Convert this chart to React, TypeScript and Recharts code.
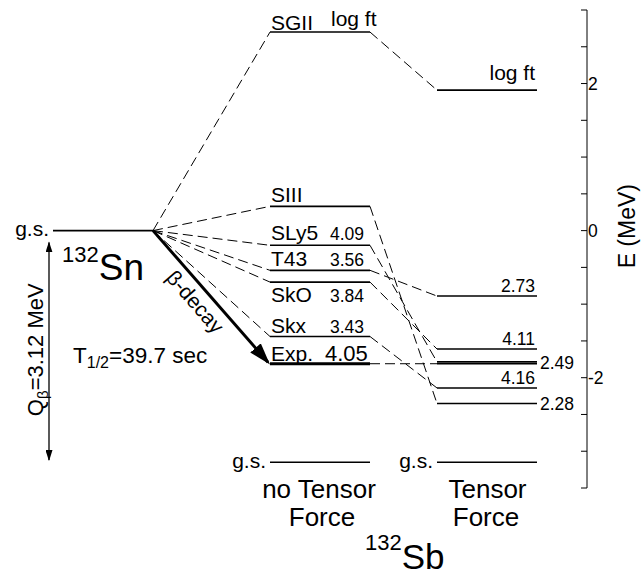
import React from "react";
import { ComposedChart, Line, XAxis, YAxis, ReferenceDot } from "recharts";

const FONT = "'Liberation Sans', Arial, sans-serif";

// energies in MeV, measured from the 132Sn ground state
const models = ["SGII", "SIII", "SLy5", "T43", "SkO", "Skx"];
const noTensorE = [2.7, 0.33, -0.2, -0.54, -0.7, -1.44];
const tensorE = [1.91, -2.35, -1.785, -0.89, -1.61, -2.14];
const noTensorLogFt = ["log ft", "", "4.09", "3.56", "3.84", "3.43"];
const tensorLogFt = ["log ft", "2.28", "2.49", "2.73", "4.11", "4.16"];
const expE = -1.81;
const expLogFt = "4.05";
const sbGroundE = -3.15;
const qBeta = 3.12;
const yTicks = [-3.5, -3, -2.5, -2, -1.5, -1, -0.5, 0, 0.5, 1, 1.5, 2, 2.5, 3];
const yTickLabels = [-2, 0, 2];

// columns on the hidden x axis (1 unit = one level width)
const snCol = [0.53, 1.53];
const ntCol = [2.7, 3.7];
const tCol = [4.37, 5.37];

// where the model names / values sit relative to their level (px)
const ntLabelDy = [-2, -4, -5, -4, 20, -4];
const tensorRightSide = [false, true, true, false, false, false];

type Pt = { x: number; y: number };
const seg = (x0: number, y0: number, x1: number, y1: number): Pt[] => [
  { x: x0, y: y0 },
  { x: x1, y: y1 },
];

type Seg = { data: Pt[]; width: number; dash?: string; head?: string; tail?: string };

const segs: Seg[] = [];
segs.push({ data: seg(snCol[0], 0, snCol[1], 0), width: 1.6 });
models.forEach((_, i) => {
  segs.push({ data: seg(ntCol[0], noTensorE[i], ntCol[1], noTensorE[i]), width: 1.6 });
  segs.push({ data: seg(tCol[0], tensorE[i], tCol[1], tensorE[i]), width: 1.6 });
  segs.push({ data: seg(snCol[1], 0, ntCol[0], noTensorE[i]), width: 1, dash: "10 5" });
  segs.push({ data: seg(ntCol[1], noTensorE[i], tCol[0], tensorE[i]), width: 1, dash: "10 5" });
});
segs.push({ data: seg(ntCol[0], expE, ntCol[1], expE), width: 3 });
segs.push({ data: seg(tCol[0], expE, tCol[1], expE), width: 1.6 });
segs.push({ data: seg(ntCol[1], expE, tCol[0], expE), width: 1, dash: "10 5" });
segs.push({ data: seg(ntCol[0], sbGroundE, ntCol[1], sbGroundE), width: 1.6 });
segs.push({ data: seg(tCol[0], sbGroundE, tCol[1], sbGroundE), width: 1.6 });
// beta-decay arrow
segs.push({ data: seg(snCol[1], 0, ntCol[0] - 0.02, expE + 0.02), width: 3, head: "url(#bigHead)" });
// Q value arrow
segs.push({ data: seg(0.49, -0.16, 0.49, -qBeta), width: 1.3, head: "url(#smallHead)", tail: "url(#smallHead)" });

type Txt = {
  x: number;
  y: number;
  text: React.ReactNode;
  size?: number;
  anchor?: "start" | "middle" | "end";
  dy?: number;
  rotate?: number;
};

const texts: Txt[] = [];
models.forEach((m, i) => {
  texts.push({ x: ntCol[0] + 0.01, y: noTensorE[i], text: m, size: 21, dy: ntLabelDy[i] });
  if (noTensorLogFt[i]) {
    const isHead = i === 0;
    texts.push({
      x: isHead ? 3.31 : 3.3,
      y: noTensorE[i],
      text: noTensorLogFt[i],
      size: isHead ? 21 : 17.5,
      dy: isHead ? -6 : ntLabelDy[i],
    });
  }
  if (tensorRightSide[i]) {
    texts.push({ x: 5.4, y: tensorE[i], text: tensorLogFt[i], size: 17.5, dy: 7 });
  } else {
    texts.push({
      x: 5.35,
      y: tensorE[i],
      text: tensorLogFt[i],
      size: i === 0 ? 21 : 17.5,
      anchor: "end",
      dy: i === 0 ? -10 : -4,
    });
  }
});
texts.push({ x: ntCol[0] + 0.01, y: expE, text: "Exp.", size: 21, dy: -3 });
texts.push({ x: 3.25, y: expE, text: expLogFt, size: 22, dy: -3 });
texts.push({ x: 0.49, y: 0, text: "g.s.", size: 21, anchor: "end", dy: 5 });
texts.push({ x: 2.66, y: sbGroundE, text: "g.s.", size: 21, anchor: "end", dy: 6 });
texts.push({ x: 4.33, y: sbGroundE, text: "g.s.", size: 21, anchor: "end", dy: 6 });
texts.push({
  x: 0.62,
  y: -0.67,
  text: (
    <>
      <tspan fontSize={22} dy={-18}>132</tspan>
      <tspan fontSize={37} dy={18}>Sn</tspan>
    </>
  ),
});
texts.push({
  x: 0.73,
  y: -1.8,
  size: 22.5,
  text: (
    <>
      T<tspan fontSize={16} dy={5}>1/2</tspan>
      <tspan dy={-5}>=39.7 sec</tspan>
    </>
  ),
});
texts.push({
  x: 0.43,
  y: -1.62,
  size: 22,
  anchor: "middle",
  rotate: -90,
  text: (
    <>
      Q<tspan fontSize={15} dy={5}>β</tspan>
      <tspan dy={-5}>=3.12 MeV</tspan>
    </>
  ),
});
texts.push({ x: 1.95, y: -0.97, text: "β-decay", size: 21, anchor: "middle", dy: 7, rotate: 49 });
texts.push({ x: 3.19, y: -3.63, text: "no Tensor", size: 26, anchor: "middle" });
texts.push({ x: 3.22, y: -4.01, text: "Force", size: 26, anchor: "middle" });
texts.push({ x: 4.875, y: -3.63, text: "Tensor", size: 26, anchor: "middle" });
texts.push({ x: 4.86, y: -4.01, text: "Force", size: 26, anchor: "middle" });
texts.push({
  x: 3.65,
  y: -4.6,
  text: (
    <>
      <tspan fontSize={22} dy={-19}>132</tspan>
      <tspan fontSize={35} dy={19}>Sb</tspan>
    </>
  ),
});
texts.push({ x: 6.35, y: 0.06, text: "E (MeV)", size: 23, anchor: "middle", rotate: -90 });

const YTick = (props: any) => {
  const { x, y, payload } = props;
  const v = payload.value;
  return (
    <g>
      <line x1={x - 6} x2={x} y1={y} y2={y} stroke="#000" strokeWidth={1} />
      {yTickLabels.includes(v) && (
        <text x={x + 1} y={y} dy={6} fontSize={17.5} fontFamily={FONT} fill="#000">
          {v}
        </text>
      )}
    </g>
  );
};

export default function App() {
  return (
    <div style={{ position: "absolute", left: 0, top: 0, width: 642, height: 580, background: "#fff" }}>
      <svg width={0} height={0} style={{ position: "absolute" }}>
        <defs>
          <marker id="bigHead" viewBox="0 0 22 14" markerWidth={22} markerHeight={14} refX={19} refY={7} orient="auto" markerUnits="userSpaceOnUse">
            <path d="M0,0 L22,7 L0,14 z" fill="#000" />
          </marker>
          <marker id="smallHead" viewBox="0 0 11 7" markerWidth={11} markerHeight={7} refX={10} refY={3.5} orient="auto-start-reverse" markerUnits="userSpaceOnUse">
            <path d="M0,0 L11,3.5 L0,7 z" fill="#000" />
          </marker>
        </defs>
      </svg>
      <ComposedChart width={642} height={580} margin={{ top: 10, right: 0, bottom: 92, left: 0 }}>
        <XAxis type="number" dataKey="x" hide domain={[0, 5.87]} allowDataOverflow />
        <YAxis
          type="number"
          orientation="right"
          width={55}
          domain={[-3.5, 3]}
          allowDataOverflow
          ticks={yTicks}
          interval={0}
          tickSize={0}
          tickMargin={0}
          tickLine={false}
          axisLine={{ stroke: "#000", strokeWidth: 1 }}
          tick={(p: any) => <YTick {...p} />}
        />
        {segs.map((s, i) => (
          <Line
            key={"s" + i}
            data={s.data}
            dataKey="y"
            type="linear"
            stroke="#000"
            strokeWidth={s.width}
            strokeDasharray={s.dash}
            markerEnd={s.head}
            markerStart={s.tail}
            dot={false}
            activeDot={false}
            isAnimationActive={false}
          />
        ))}
        {texts.map((t, i) => (
          <ReferenceDot
            key={"t" + i}
            x={t.x}
            y={t.y}
            r={0}
            ifOverflow="visible"
            shape={(p: any) => (
              <text
                x={p.cx}
                y={p.cy}
                dy={t.dy ?? 0}
                fontSize={t.size ?? 20}
                textAnchor={t.anchor ?? "start"}
                fontFamily={FONT}
                fill="#000"
                transform={t.rotate ? `rotate(${t.rotate} ${p.cx} ${p.cy})` : undefined}
              >
                {t.text}
              </text>
            )}
          />
        ))}
      </ComposedChart>
    </div>
  );
}
